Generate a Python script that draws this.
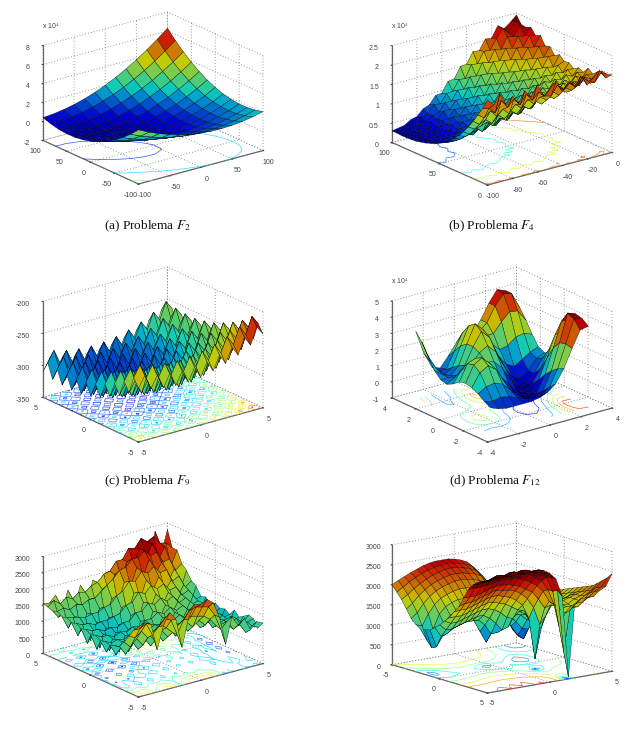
import numpy as np, matplotlib
matplotlib.use('Agg')
import matplotlib.pyplot as plt, seaborn as sns
from matplotlib.colors import ListedColormap
from mpl_toolkits.mplot3d import proj3d
sns.set_style('white')
plt.rcParams['font.family']=['Liberation Sans','DejaVu Sans']
plt.rcParams['mathtext.fontset']='stix'
plt.rcParams['axes.unicode_minus']=False
W,H=638,744
# heights; rows = y ascending, columns = x ascending
Z_a=[[3.70,3.17,2.71,2.33,2.01,1.77,1.60,1.50,1.48,1.53,1.65,1.84,2.10],
[2.86,2.38,1.98,1.64,1.38,1.19,1.07,1.03,1.05,1.15,1.33,1.57,1.88],
[2.12,1.70,1.34,1.06,.85,.71,.65,.65,.73,.88,1.11,1.40,1.77],
[1.49,1.11,.81,.58,.42,.34,.33,.38,.52,.72,.995,1.34,1.76],
[.96,.63,.38,.21,.10,.07,.11,.22,.40,.66,.98,1.38,1.86],
[.53,.26,.06,-.07,-.12,-.10,-.01,.15,.39,.70,1.08,1.53,2.05],
[.20,-.02,-.16,-.24,-.24,-.17,-.03,.19,.48,.84,1.27,1.77,2.35],
[-.02,-.19,-.28,-.31,-.25,-.13,.06,.33,.67,1.08,1.57,2.12,2.75],
[-.14,-.26,-.30,-.27,-.17,.01,.26,.58,.97,1.43,1.97,2.58,3.26],
[-.16,-.22,-.21,-.13,.02,.25,.55,.92,1.37,1.88,2.47,3.13,3.86],
[-.08,-.09,-.03,.11,.32,.60,.95,1.37,1.87,2.43,3.08,3.79,4.57],
[.11,.15,.27,.45,.71,1.04,1.45,1.92,2.47,3.09,3.78,4.55,5.38],
[.40,.50,.66,.90,1.21,1.59,2.05,2.58,3.18,3.85,4.60,5.41,6.30]]
Z_b=[[2.20,2.02,2.28,1.95,2.12,1.90,2.18,1.98,2.25,1.92,2.05,2.22,1.92,2.10,1.95,2.18,1.90,2.05,2.20,1.96,2.00],
[1.92,1.88,1.72,2.00,1.78,1.95,1.76,1.99,1.80,1.97,1.82,1.78,2.02,1.84,2.00,1.86,2.06,1.90,1.84,2.04,1.96],
[1.70,1.58,1.72,1.54,1.68,1.52,1.72,1.58,1.76,1.60,1.74,1.62,1.80,1.66,1.82,1.70,1.78,1.92,1.76,1.90,1.98],
[1.48,1.36,1.44,1.30,1.47,1.34,1.50,1.38,1.54,1.42,1.58,1.46,1.62,1.52,1.70,1.60,1.80,1.68,1.86,1.76,1.92],
[1.28,1.18,1.22,1.28,1.14,1.30,1.20,1.36,1.26,1.42,1.32,1.50,1.40,1.58,1.48,1.66,1.56,1.74,1.66,1.84,1.80],
[1.10,1.00,1.12,.98,1.14,1.06,1.22,1.10,1.28,1.18,1.36,1.26,1.46,1.36,1.54,1.46,1.68,1.58,1.78,1.68,1.90],
[.95,.88,.92,.99,.92,1.02,.96,1.12,1.04,1.22,1.12,1.32,1.22,1.42,1.34,1.54,1.44,1.66,1.56,1.78,1.74],
[.82,.76,.84,.78,.90,.84,.98,.92,1.08,1.00,1.18,1.10,1.30,1.22,1.42,1.34,1.56,1.48,1.70,1.62,1.80],
[.70,.66,.72,.78,.74,.84,.80,.94,.88,1.04,.98,1.16,1.10,1.28,1.22,1.44,1.36,1.58,1.52,1.74,1.72],
[.62,.58,.64,.60,.70,.68,.80,.76,.90,.88,1.02,.98,1.16,1.12,1.32,1.26,1.50,1.44,1.66,1.60,1.82],
[.55,.50,.56,.60,.58,.68,.66,.80,.76,.92,.90,1.08,1.02,1.22,1.18,1.38,1.34,1.56,1.52,1.74,1.80],
[.47,.44,.52,.50,.60,.58,.70,.68,.84,.80,.98,.94,1.12,1.08,1.30,1.24,1.48,1.44,1.68,1.64,1.92],
[.42,.40,.44,.50,.50,.60,.60,.74,.72,.90,.86,1.06,1.02,1.24,1.18,1.42,1.38,1.62,1.60,1.86,1.84],
[.37,.36,.44,.44,.54,.52,.66,.66,.82,.78,1.00,.96,1.18,1.12,1.36,1.32,1.58,1.54,1.80,1.78,2.02],
[.34,.34,.38,.46,.46,.58,.58,.74,.72,.92,.90,1.12,1.08,1.32,1.26,1.52,1.50,1.76,1.74,2.00,1.98],
[.31,.32,.40,.40,.52,.52,.68,.66,.86,.84,1.06,1.02,1.28,1.22,1.48,1.46,1.74,1.70,1.96,1.94,2.20],
[.30,.30,.34,.44,.46,.58,.58,.78,.76,.98,.96,1.22,1.18,1.46,1.42,1.70,1.68,1.94,1.92,2.18,2.14],
[.29,.30,.38,.40,.52,.54,.72,.72,.92,.90,1.16,1.12,1.40,1.38,1.66,1.64,1.92,1.88,2.14,2.12,2.30],
[.29,.30,.34,.44,.48,.60,.64,.84,.84,1.08,1.06,1.34,1.32,1.62,1.58,1.88,1.84,2.12,2.08,2.30,2.24],
[.30,.30,.38,.40,.54,.58,.78,.76,.98,1.00,1.26,1.24,1.56,1.54,1.82,1.80,2.06,2.28,2.12,2.40,2.26],
[.30,.33,.36,.46,.50,.66,.72,.92,.94,1.20,1.22,1.50,1.52,1.80,1.78,2.04,2.02,2.30,2.18,2.30,2.45]]
Z_c=[[-266,-249,-272,-254,-276,-257,-278,-258,-278,-257,-276,-254,-271,-249,-265,-242,-257,-232,-247,-221,-235],
[-253,-236,-259,-241,-263,-244,-265,-245,-265,-244,-263,-241,-258,-236,-252,-229,-244,-219,-234,-208,-222],
[-280,-263,-286,-268,-290,-271,-292,-272,-292,-271,-290,-268,-285,-263,-279,-256,-271,-246,-261,-235,-249],
[-266,-249,-272,-254,-276,-257,-278,-258,-278,-257,-276,-254,-271,-249,-265,-242,-257,-232,-247,-221,-235],
[-291,-274,-297,-279,-301,-282,-303,-283,-303,-282,-301,-279,-296,-274,-290,-267,-282,-257,-272,-246,-260],
[-276,-259,-282,-264,-286,-267,-288,-268,-288,-267,-286,-264,-281,-259,-275,-252,-267,-242,-257,-231,-245],
[-300,-283,-306,-288,-310,-291,-312,-292,-312,-291,-310,-288,-305,-283,-299,-276,-291,-266,-281,-255,-269],
[-284,-267,-290,-272,-294,-275,-296,-276,-296,-275,-294,-272,-289,-267,-283,-260,-275,-250,-265,-239,-253],
[-308,-291,-314,-296,-318,-299,-320,-300,-320,-299,-318,-296,-313,-291,-307,-284,-299,-274,-289,-263,-277],
[-291,-274,-297,-279,-301,-282,-303,-283,-303,-282,-301,-279,-296,-274,-290,-267,-282,-257,-272,-246,-260],
[-313,-296,-319,-301,-323,-304,-325,-305,-325,-304,-323,-301,-318,-296,-312,-289,-304,-279,-294,-268,-282],
[-295,-278,-301,-283,-305,-286,-307,-287,-307,-286,-305,-283,-300,-278,-294,-271,-286,-261,-276,-250,-264],
[-317,-300,-323,-305,-327,-308,-329,-309,-329,-308,-327,-305,-322,-300,-316,-293,-308,-283,-298,-272,-286],
[-298,-281,-304,-286,-308,-289,-310,-290,-310,-289,-308,-286,-303,-281,-297,-274,-289,-264,-279,-253,-267],
[-318,-301,-324,-306,-328,-309,-330,-310,-330,-309,-328,-306,-323,-301,-317,-294,-309,-284,-299,-273,-287],
[-298,-281,-304,-286,-308,-289,-310,-290,-310,-289,-308,-286,-303,-281,-297,-274,-289,-264,-279,-253,-267],
[-317,-300,-323,-305,-327,-308,-329,-309,-329,-308,-327,-305,-322,-300,-316,-293,-308,-283,-298,-272,-286],
[-296,-279,-302,-284,-306,-287,-308,-288,-308,-287,-306,-284,-301,-279,-295,-272,-287,-262,-277,-251,-265],
[-315,-298,-321,-303,-325,-306,-327,-307,-327,-306,-325,-303,-320,-298,-314,-291,-306,-281,-296,-270,-284],
[-293,-276,-299,-281,-303,-284,-305,-285,-305,-284,-303,-281,-298,-276,-292,-269,-284,-259,-274,-248,-262],
[-310,-293,-316,-298,-320,-301,-322,-302,-322,-301,-320,-298,-315,-293,-309,-286,-301,-276,-291,-265,-279]]
Z_d=[[.6,.4,.3,.3,.3,.3,.4,.6,1.0,1.8,2.9,3.9,4.0],
[.8,.7,.8,.7,.5,.3,.2,.2,.6,1.6,3.0,4.4,4.3],
[1.1,1.4,1.5,1.3,.8,.3,0,-.1,.2,1.3,2.9,4.6,4.4],
[1.3,2.1,2.4,2.0,1.1,.3,-.2,-.3,-.1,.9,2.4,3.9,3.9],
[1.4,2.4,2.7,2.2,1.3,.5,-.1,-.4,-.3,.4,1.6,2.9,3.0],
[1.3,2.3,2.5,2.1,1.5,1.0,.4,-.2,-.4,0,.8,1.8,2.0],
[1.0,1.7,1.9,1.8,1.8,1.7,1.2,.4,-.3,-.2,.3,1.1,1.3],
[.8,1.1,1.3,1.6,2.2,2.5,2.0,1.0,.2,-.1,.3,.9,1.1],
[.9,.9,.9,1.4,2.4,3.2,2.7,1.5,.8,.5,.8,1.1,1.3],
[1.3,.9,.7,1.2,2.4,3.5,3.0,2.0,1.5,1.6,2.0,2.1,1.9],
[2.0,1.1,.6,.9,2.1,3.2,2.8,2.3,2.3,2.9,3.4,3.3,2.6],
[2.7,1.4,.6,.6,1.6,2.6,2.4,2.4,2.8,3.7,4.3,4.2,3.2],
[3.2,1.7,.7,.5,1.1,1.8,1.9,2.1,2.8,3.7,4.4,4.2,3.1]]
Z_e=[[2170,2250,2150,1300,2000,2350,2100,1170,2000,2400,2350,2450,2300,1800,900,1700,1400,1550,1150,1350,1250],
[2000,2000,2100,1700,1900,2100,2000,1500,1900,2150,2200,2150,2100,1800,1300,1500,1200,1300,1000,1150,1050],
[1750,1650,1800,1550,1700,1850,1700,1500,1700,1850,1850,1800,1750,1600,1350,1350,1250,1250,1150,1200,1250],
[1500,1300,1500,1250,1500,1300,1550,1300,1550,1350,1600,1400,1550,1350,1500,1250,1350,1150,1300,1100,1300],
[1300,1000,1350,1050,1350,1050,1400,1100,1450,1150,1450,1200,1450,1200,1400,1100,1300,1000,1300,950,1200],
[1250,1150,1250,1200,1300,1250,1300,1300,1350,1350,1400,1400,1400,1350,1350,1250,1200,1100,1150,1050,1100],
[1200,850,1200,850,1200,900,1250,950,1350,1050,1400,1100,1400,1100,1350,1000,1250,900,1200,800,1250],
[1250,1150,1200,1150,1250,1150,1300,1250,1350,1300,1450,1350,1450,1300,1400,1200,1300,1050,1200,1000,1050],
[1200,800,1150,700,1150,750,1200,850,1300,950,1400,1100,1450,1100,1450,1000,1350,850,1250,700,1150],
[1300,1200,1200,1100,1200,1150,1250,1200,1350,1350,1500,1400,1550,1400,1500,1300,1400,1150,1250,1000,1100],
[1250,750,1150,600,1100,550,1100,650,1250,950,1450,1150,1550,1200,1550,1100,1450,900,1300,650,1200],
[1350,1250,1250,1150,1200,1150,1250,1250,1450,1450,1650,1550,1700,1550,1650,1400,1500,1250,1300,1050,1100],
[1300,800,1150,550,1100,450,1100,600,1300,1000,1600,1300,1750,1350,1700,1250,1550,1000,1400,700,1250],
[1400,1300,1300,1200,1250,1250,1300,1350,1550,1600,1850,1750,1950,1800,1900,1650,1700,1400,1500,1150,1200],
[1350,900,1200,650,1150,550,1200,750,1400,1150,1750,1500,2050,1650,2050,1550,1850,1250,1600,900,1450],
[1450,1400,1350,1300,1350,1350,1450,1500,1700,1800,2050,2000,2250,2150,2300,2050,2100,1700,1800,1400,1550],
[1400,1000,1300,800,1300,750,1350,950,1550,1350,1950,1750,2300,1950,2450,1950,2250,1600,1950,1250,1800],
[1500,1550,1450,1550,1500,1600,1600,1750,1900,2050,2250,2300,2500,2500,2650,2450,2500,2150,2200,1800,1950],
[1450,1200,1400,1100,1450,1100,1500,1250,1700,1550,2050,1950,2350,2200,2650,2300,2700,2150,2500,1850,2300],
[1500,1650,1500,1650,1550,1700,1650,1800,1850,2050,2100,2350,2350,2650,2600,2850,2700,2800,2550,2500,2300],
[1550,1500,1700,1100,1750,1150,1800,1200,1850,1250,1950,1350,2050,1500,2250,1650,2500,1800,2850,2100,2800]]
Z_f=[[2000,2080,2150,2220,2280,2340,2380,2400,2400,2400,2370,2320,2250,2100,1850,1600,1350,1050,800,600,650],
[1850,1950,2050,2130,2200,2260,2300,2330,2350,2330,2300,2250,2180,2020,1780,1550,1300,1000,750,500,520],
[1700,1800,1920,2020,2100,2170,2220,2260,2270,2260,2220,2170,2100,1940,1700,1500,1250,950,800,700,800],
[1500,1620,1780,1900,2000,2070,2120,2160,2170,2160,2120,2080,2000,1840,1620,1430,1250,1100,1000,950,1050],
[1300,1420,1620,1770,1880,1950,2000,2040,2050,2030,2000,1950,1880,1720,1520,1350,1250,1200,1150,1150,1250],
[1180,1120,1400,1600,1730,1800,1850,1880,1880,1860,1820,1770,1700,1550,1350,1150,1200,1250,1250,1300,1400],
[1100,800,1050,1400,1560,1630,1680,1680,1650,1560,1580,1560,1480,1300,1050,800,1050,1250,1300,1400,1500],
[1120,650,900,1200,1380,1450,1480,1420,1250,950,1100,1250,1250,1050,750,550,950,1250,1350,1450,1550],
[1150,700,950,1150,1250,1300,1300,1200,900,600,850,1100,1150,900,650,520,900,1250,1400,1500,1600],
[1250,1000,1050,1150,1200,1250,1250,1250,1100,850,850,1050,1200,1050,850,800,1050,1300,1450,1550,1650],
[1350,1200,1200,1250,1300,1350,1400,1400,1300,1150,950,1000,1300,1250,1100,1050,1200,1350,1500,1600,1700],
[1480,1400,1400,1450,1500,1550,1600,1600,1550,1450,1300,1250,1400,1300,1250,1300,1350,1450,1550,1650,1750],
[1600,1600,1600,1650,1700,1750,1800,1800,1750,1700,1600,1500,1450,1150,1000,1250,1450,1500,1600,1700,1800],
[1780,1800,1800,1850,1900,1950,2000,2000,1950,1900,1800,1650,1300,250,1000,1500,1550,1600,1650,1750,1850],
[1950,2000,2000,2050,2100,2150,2200,2150,2150,2100,2000,1850,1600,1150,1350,1600,1650,1700,1750,1800,1900],
[2200,2200,2200,2250,2300,2350,2350,2350,2300,2250,2150,2050,1850,1600,1650,1700,1700,1750,1800,1850,1950],
[2450,2450,2450,2480,2500,2530,2550,2520,2500,2450,2350,2250,2080,1800,1650,1650,1650,1750,1800,1900,2000],
[2600,2600,2620,2680,2650,2700,2680,2720,2640,2620,2500,2400,2150,1750,1600,1650,1600,1750,1850,1950,2100],
[2700,2680,2700,2780,2720,2800,2740,2810,2720,2750,2620,2520,2150,1250,1550,1700,1650,1800,1950,2050,2200],
[2760,2740,2780,2830,2770,2860,2780,2850,2760,2800,2700,2560,2200,650,1650,1800,1800,1900,2020,2100,2300],
[2800,2780,2820,2860,2800,2880,2820,2860,2780,2820,2720,2550,2100,50,1850,1950,1950,1950,2070,2150,2440]]
panels=[
 dict(cap='(a) Problema $F_2$',capxy=(147,226),z=Z_a,xl=(-100,100),yl=(-100,100),zl=(-2,8),xt=[-100,-50,0,50,100],yt=[-100,-50,0,50,100],zt=[-2,0,2,4,6,8],box=(43,263,184,12),zpx=95,off='x 10$^4$',offxy=(42,31),dx=(-100,100),dy=(-100,100),lv=5,vr=(-.6,6.3)),
 dict(cap='(b) Problema $F_4$',capxy=(492,226),z=Z_b,xl=(-100,0),yl=(0,100),zl=(0,2.5),xt=[-100,-80,-60,-40,-20,0],yt=[0,50,100],zt=[0,.5,1,1.5,2,2.5],box=(392,612,185,13),zpx=97,off='x 10$^4$',offxy=(391,31),dx=(-100,0),dy=(0,100),lv=4,vr=(.2,2.4)),
 dict(cap='(c) Problema $F_9$',capxy=(147,481),z=Z_c,xl=(-5,5),yl=(-5,5),zl=(-350,-200),xt=[-5,0,5],yt=[-5,0,5],zt=[-350,-300,-250,-200],box=(43,263,442,267),zpx=96,off=None,dx=(-5,5),dy=(-5,5),lv=9,vr=(-335,-208)),
 dict(cap='(d) Problema $F_{12}$',capxy=(495,481),z=Z_d,xl=(-4,4),yl=(-4,4),zl=(-1,5),xt=[-4,-2,0,2,4],yt=[-4,-2,0,2,4],zt=[-1,0,1,2,3,4,5],box=(392,612,442,267),zpx=97,off='x 10$^4$',offxy=(391,286),dx=(-3.14,3.14),dy=(-3.14,3.14),lv=7,vr=(-.4,4.6)),
 dict(cap=None,z=Z_e,xl=(-5,5),yl=(-5,5),zl=(0,3000),xt=[-5,0,5],yt=[-5,0,5],zt=[0,500,1000,1500,2000,2500,3000],box=(43,263,697,523),zpx=97,off=None,dx=(-5,5),dy=(-5,5),lv=8,vr=(0,2800)),
 dict(cap=None,z=Z_f,xl=(-5,5),yl=(5,-5),zl=(0,3000),xt=[-5,0,5],yt=[-5,0,5],zt=[0,500,1000,1500,2000,2500,3000],box=(392,612,693,523),zpx=120,off=None,dx=(-5,5),dy=(-5,5),lv=8,vr=(100,2600)),
]
fig=plt.figure(figsize=(W/100,H/100),dpi=100,facecolor='white')
jet=matplotlib.colormaps['jet']
rgb=jet(np.arange(256))[:,:3]*.8
darkjet=ListedColormap(rgb)
for p in panels:
    ax=fig.add_subplot(projection='3d',computed_zorder=False,proj_type='ortho')
    ax.view_init(30,-127.5)
    L,R,Bt,Tp=p['box']; zpx=p['zpx']
    ground=(Bt-Tp)-zpx
    ax.set_box_aspect((1,1,(zpx/.866)/(ground/.7)))
    Z=np.array(p['z'],float)
    gx=np.linspace(p['dx'][0],p['dx'][1],Z.shape[1]); gy=np.linspace(p['dy'][0],p['dy'][1],Z.shape[0])
    X,Y=np.meshgrid(gx,gy)
    ax.contour(X,Y,Z,levels=p['lv'],zdir='z',offset=p['zl'][0],cmap=jet,linewidths=.5,alpha=.8,zorder=1)
    ax.plot_surface(X,Y,Z,cmap=darkjet,vmin=p['vr'][0],vmax=p['vr'][1],edgecolor='#000000',linewidth=.25,shade=False,zorder=2,rstride=1,cstride=1)
    ax.set_xticks(p['xt']); ax.set_yticks(p['yt']); ax.set_zticks(p['zt'])
    ax.set_xticklabels([f'{v:g}' for v in p['xt']]); ax.set_yticklabels([f'{v:g}' for v in p['yt']])
    ax.set_zticklabels([f'{v:g}' for v in p['zt']],ha='right')
    ax.set_xlim(*p['xl']); ax.set_ylim(*p['yl']); ax.set_zlim(*p['zl'])
    ax.tick_params(labelsize=5,colors='#444444',pad=-3,length=1)
    for a in (ax.xaxis,ax.yaxis,ax.zaxis):
        a.set_pane_color((1,1,1,0)); a.pane.set_edgecolor('none')
        a.line.set_color('#666666'); a.line.set_linewidth(.9)
        a._axinfo['grid'].update(color='#777777',linestyle=(0,(1,2.5)),linewidth=.6)
        a._axinfo['tick'].update(inward_factor=.1,outward_factor=.0)
    M=ax.get_proj()
    xs,ys=[],[]
    for cx in p['xl']:
        for cy in p['yl']:
            for cz in p['zl']:
                a,b,_=proj3d.proj_transform(cx,cy,cz,M); xs.append(a); ys.append(b)
    x0,x1=ax.viewLim.intervalx; y0,y1=ax.viewLim.intervaly
    axw=(R-L)/((max(xs)-min(xs))/(x1-x0)); axh=(Bt-Tp)/((max(ys)-min(ys))/(y1-y0))
    lp=L-(min(xs)-x0)/(x1-x0)*axw
    bp=(H-Bt)-(min(ys)-y0)/(y1-y0)*axh
    ax.set_position([lp/W,bp/H,axw/W,axh/H])
    ax.apply_aspect=lambda position=None:None
    if p['off']:
        fig.text(p['offxy'][0]/W,1-p['offxy'][1]/H,p['off'],fontsize=5,color='#444444',va='bottom',ha='left')
    if p['cap']:
        fig.text(p['capxy'][0]/W,1-p['capxy'][1]/H,p['cap'],fontsize=9.5,family=['Liberation Serif'],ha='center',va='center',color='#111111')
fig.savefig('out.png',dpi=100)
